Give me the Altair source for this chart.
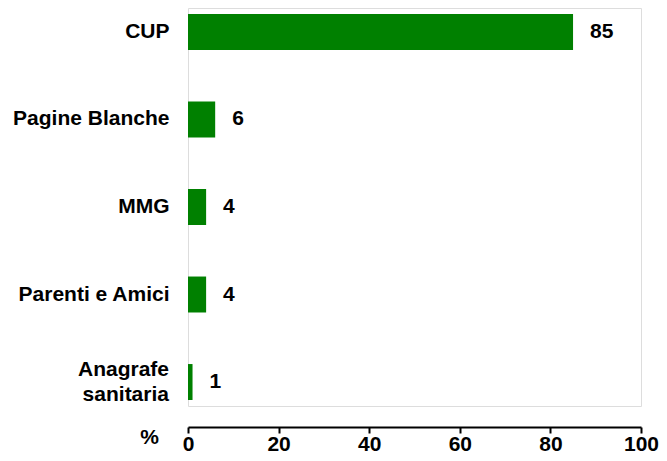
import altair as alt
import pandas as pd

categories = ["CUP", "Pagine Blanche", "MMG", "Parenti e Amici", "Anagrafe sanitaria"]
values = [85, 6, 4, 4, 1]
x_ticks = [0, 20, 40, 60, 80, 100]
wrapped_label = {"Anagrafe sanitaria": "Anagrafe\nsanitaria"}

df = pd.DataFrame({"source": categories, "pct": values})
df_wrap = pd.DataFrame(
    {"source": list(wrapped_label.keys()), "label": list(wrapped_label.values())}
)

FONT = "Liberation Sans"
FS = 21
GREEN = "#008000"

y_enc = alt.Y(
    "source:N",
    sort=categories,
    scale=alt.Scale(paddingInner=0.589, paddingOuter=0.0685),
    axis=alt.Axis(
        title=None,
        domain=False,
        ticks=False,
        labelPadding=19,
        labelFont=FONT,
        labelFontSize=FS,
        labelFontWeight="bold",
        labelColor="black",
        labelLimit=300,
        labelExpr="datum.label == 'Anagrafe sanitaria' ? '' : datum.label",
    ),
)

bars = alt.Chart(df).mark_bar(color=GREEN).encode(
    x=alt.X(
        "pct:Q",
        scale=alt.Scale(domain=[0, 100], nice=False),
        axis=alt.Axis(
            values=x_ticks,
            title="%",
            titleFont=FONT,
            titleFontSize=FS,
            titleFontWeight="bold",
            titleColor="black",
            titleX=-39,
            titleY=10,
            titleAlign="center",
            titleBaseline="middle",
            titleAngle=0,
            grid=False,
            offset=21,
            domainColor="black",
            domainWidth=2,
            tickColor="black",
            tickWidth=2,
            tickSize=6,
            labelPadding=0,
            labelFont=FONT,
            labelFontSize=FS,
            labelFontWeight="bold",
            labelColor="black",
            labelFlush=False,
        ),
    ),
    y=y_enc,
)

labels = alt.Chart(df).mark_text(
    align="left",
    baseline="middle",
    dx=17,
    font=FONT,
    fontSize=FS,
    fontWeight="bold",
    color="black",
).encode(
    x="pct:Q",
    y=alt.Y("source:N", sort=categories),
    text="pct:Q",
)

wrap_text = alt.Chart(df_wrap).mark_text(
    align="right",
    baseline="middle",
    dy=-12.5,
    lineBreak="\n",
    lineHeight=25,
    font=FONT,
    fontSize=FS,
    fontWeight="bold",
    color="black",
).encode(
    x=alt.value(-19),
    y=alt.Y("source:N", sort=categories),
    text="label:N",
)

chart = (
    alt.layer(bars, labels, wrap_text)
    .properties(
        width=453,
        height=398,
        autosize=alt.AutoSizeParams(type="none"),
        padding={"left": 180, "top": 0, "right": 18, "bottom": 47},
    )
    .configure_view(strokeWidth=0, stroke="transparent")
    .configure(background="white")
)

chart.save("out.html", embed_options={"renderer": "svg", "actions": False})
